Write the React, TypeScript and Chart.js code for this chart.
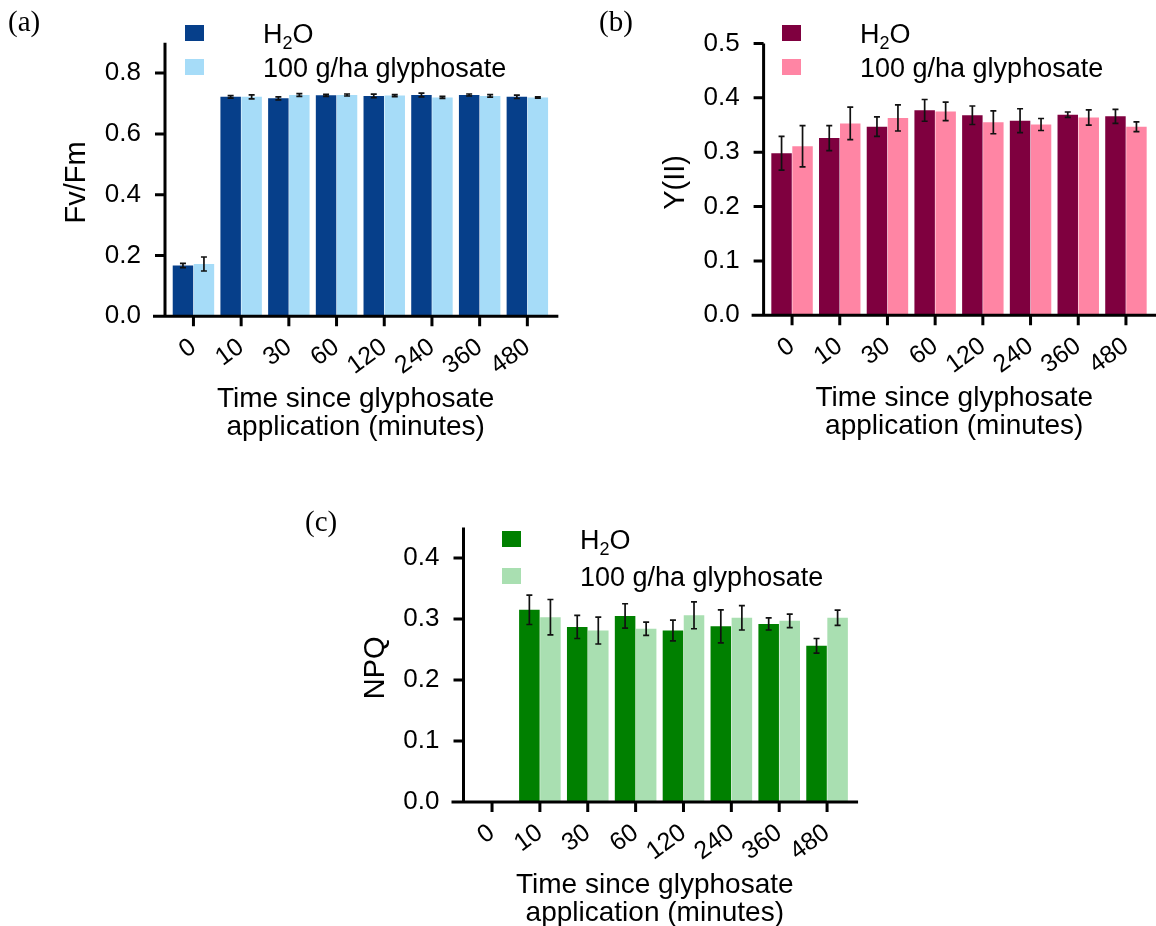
import React, { useEffect, useRef } from 'react';
import { Chart, registerables } from 'chart.js';

Chart.register(...registerables);

// ---------- data ----------
const categories = ['0', '10', '30', '60', '120', '240', '360', '480'];
const seriesNames = ['H2O', '100 g/ha glyphosate'];

const fvfmWater = [0.167, 0.722, 0.717, 0.727, 0.725, 0.728, 0.728, 0.722];
const fvfmWaterErr = [0.007, 0.004, 0.005, 0.0033, 0.006, 0.006, 0.0033, 0.0055];
const fvfmGly = [0.172, 0.722, 0.728, 0.728, 0.726, 0.72, 0.725, 0.72];
const fvfmGlyErr = [0.023, 0.0066, 0.0044, 0.0033, 0.0033, 0.0033, 0.004, 0.002];
const fvfmTicks = [0, 0.2, 0.4, 0.6, 0.8];

const yiiWater = [0.298, 0.326, 0.347, 0.377, 0.368, 0.358, 0.369, 0.366];
const yiiWaterErr = [0.031, 0.023, 0.018, 0.02, 0.017, 0.022, 0.005, 0.013];
const yiiGly = [0.311, 0.353, 0.363, 0.375, 0.355, 0.351, 0.364, 0.347];
const yiiGlyErr = [0.038, 0.03, 0.024, 0.017, 0.021, 0.011, 0.014, 0.009];
const yiiTicks = [0, 0.1, 0.2, 0.3, 0.4, 0.5];

const npqWater = [null, 0.315, 0.287, 0.305, 0.281, 0.288, 0.292, 0.256];
const npqWaterErr = [null, 0.024, 0.019, 0.02, 0.017, 0.027, 0.01, 0.012];
const npqGly = [null, 0.303, 0.281, 0.284, 0.306, 0.302, 0.297, 0.302];
const npqGlyErr = [null, 0.029, 0.022, 0.011, 0.022, 0.02, 0.011, 0.0125];
const npqTicks = [0, 0.1, 0.2, 0.3, 0.4];

const SANS = "'Liberation Sans', Arial, sans-serif";
const SERIF = "'Liberation Serif', 'Times New Roman', serif";

type PanelCfg = {
  id: string;
  label: string;
  labelPos: { x: number; y: number };
  canvas: { left: number; top: number; width: number; height: number };
  area: { left: number; right: number; top: number; bottom: number };
  yMax: number;
  yTicks: number[];
  yTitle: string;
  water: (number | null)[];
  waterErr: (number | null)[];
  gly: (number | null)[];
  glyErr: (number | null)[];
  colors: [string, string];
  legend: { squareX: number; textX: number; rows: [number, number] };
};

const panels: PanelCfg[] = [
  {
    id: 'a',
    label: '(a)',
    labelPos: { x: 8, y: 31 },
    canvas: { left: 0, top: 0, width: 580, height: 460 },
    area: { left: 169.6, right: 551.2, top: 42.7, bottom: 316.3 },
    yMax: 0.9,
    yTicks: fvfmTicks,
    yTitle: 'Fv/Fm',
    water: fvfmWater,
    waterErr: fvfmWaterErr,
    gly: fvfmGly,
    glyErr: fvfmGlyErr,
    colors: ['#063f8a', '#a6dcf8'],
    legend: { squareX: 185, textX: 263, rows: [33, 67] },
  },
  {
    id: 'b',
    label: '(b)',
    labelPos: { x: 599, y: 31 },
    canvas: { left: 580, top: 0, width: 576, height: 460 },
    area: { left: 768.2, right: 1149.8, top: 43.5, bottom: 315.3 },
    yMax: 0.5,
    yTicks: yiiTicks,
    yTitle: 'Y(II)',
    water: yiiWater,
    waterErr: yiiWaterErr,
    gly: yiiGly,
    glyErr: yiiGlyErr,
    colors: ['#7f003f', '#ff85a4'],
    legend: { squareX: 782, textX: 860, rows: [33, 67] },
  },
  {
    id: 'c',
    label: '(c)',
    labelPos: { x: 305, y: 531 },
    canvas: { left: 280, top: 470, width: 600, height: 456 },
    area: { left: 468.1, right: 851.0, top: 527.5, bottom: 802 },
    yMax: 0.45,
    yTicks: npqTicks,
    yTitle: 'NPQ',
    water: npqWater,
    waterErr: npqWaterErr,
    gly: npqGly,
    glyErr: npqGlyErr,
    colors: ['#008000', '#a9dfb1'],
    legend: { squareX: 502, textX: 580, rows: [539, 576] },
  },
];

function makeDecor(cfg: PanelCfg) {
  const ox = cfg.canvas.left;
  const oy = cfg.canvas.top;
  return {
    id: 'decor_' + cfg.id,
    afterDatasetsDraw(chart: any) {
      const ctx = chart.ctx;
      const ys = chart.scales.y;
      ctx.save();
      ctx.strokeStyle = '#111';
      ctx.lineWidth = 1.7;
      [cfg.waterErr, cfg.glyErr].forEach((errs, di) => {
        const meta = chart.getDatasetMeta(di);
        const vals = chart.data.datasets[di].data;
        meta.data.forEach((el: any, j: number) => {
          const v = vals[j];
          const e = errs[j];
          if (v == null || e == null) return;
          const x = el.x;
          const y1 = ys.getPixelForValue(v + e);
          const y2 = ys.getPixelForValue(v - e);
          ctx.beginPath();
          ctx.moveTo(x, y1);
          ctx.lineTo(x, y2);
          ctx.moveTo(x - 3, y1);
          ctx.lineTo(x + 3, y1);
          ctx.moveTo(x - 3, y2);
          ctx.lineTo(x + 3, y2);
          ctx.stroke();
        });
      });
      ctx.restore();
    },
    afterDraw(chart: any) {
      const ctx = chart.ctx;
      const a = chart.chartArea;
      const xs = chart.scales.x;
      const ys = chart.scales.y;
      const L = a.left - 4.6;
      const xEnd = xs.getPixelForValue(categories.length - 1) + 31;
      ctx.save();
      ctx.strokeStyle = '#000';
      ctx.lineWidth = 3;
      ctx.lineCap = 'butt';
      ctx.beginPath();
      ctx.moveTo(L, a.top);
      ctx.lineTo(L, a.bottom);
      ctx.moveTo(L - 12, a.bottom);
      ctx.lineTo(xEnd, a.bottom);
      ys.ticks.forEach((t: any) => {
        const y = ys.getPixelForValue(t.value);
        ctx.moveTo(L - 10, y);
        ctx.lineTo(L, y);
      });
      categories.forEach((_, i) => {
        const x = xs.getPixelForValue(i);
        ctx.moveTo(x, a.bottom);
        ctx.lineTo(x, a.bottom + 10);
      });
      ctx.stroke();

      // axis titles
      ctx.fillStyle = '#000';
      ctx.font = `28px ${SANS}`;
      ctx.textAlign = 'center';
      ctx.textBaseline = 'alphabetic';
      const cx = (L - 12 + xEnd) / 2;
      ctx.fillText('Time since glyphosate', cx, a.bottom + 91);
      ctx.fillText('application (minutes)', cx, a.bottom + 119);
      ctx.save();
      ctx.translate(L - 80, (a.top + a.bottom) / 2 + 3);
      ctx.rotate(-Math.PI / 2);
      ctx.font = `29px ${SANS}`;
      ctx.fillText(cfg.yTitle, 0, 0);
      ctx.restore();

      // legend
      const lg = cfg.legend;
      const sx = lg.squareX - ox;
      ctx.textAlign = 'left';
      cfg.colors.forEach((col, i) => {
        const cy = lg.rows[i] - oy;
        ctx.fillStyle = col;
        ctx.fillRect(sx, cy - 8, 19, 16);
        ctx.fillStyle = '#000';
        const base = cy + 9.6;
        let tx = lg.textX - ox;
        if (i === 0) {
          ctx.font = `27px ${SANS}`;
          ctx.fillText('H', tx, base);
          tx += ctx.measureText('H').width;
          ctx.font = `18px ${SANS}`;
          ctx.fillText('2', tx, base + 6);
          tx += ctx.measureText('2').width;
          ctx.font = `27px ${SANS}`;
          ctx.fillText('O', tx, base);
        } else {
          ctx.font = `27px ${SANS}`;
          ctx.fillText(seriesNames[1], tx, base);
        }
      });

      // panel label
      ctx.font = `29px ${SERIF}`;
      ctx.fillText(cfg.label, cfg.labelPos.x - ox, cfg.labelPos.y - oy);
      ctx.restore();
    },
  };
}

function Panel({ cfg }: { cfg: PanelCfg }) {
  const ref = useRef<HTMLCanvasElement>(null);
  const c = cfg.canvas;
  useEffect(() => {
    if (!ref.current) return;
    const chart = new Chart(ref.current, {
      type: 'bar',
      data: {
        labels: categories,
        datasets: [
          { label: seriesNames[0], data: cfg.water as any, backgroundColor: cfg.colors[0], borderWidth: 0 },
          { label: seriesNames[1], data: cfg.gly as any, backgroundColor: cfg.colors[1], borderWidth: 0 },
        ],
      },
      options: {
        responsive: false,
        animation: false,
        devicePixelRatio: 1,
        layout: {
          padding: {
            left: 0,
            top: cfg.area.top - c.top,
            right: c.left + c.width - cfg.area.right,
            bottom: 0,
          },
        },
        plugins: { legend: { display: false }, tooltip: { enabled: false } },
        datasets: { bar: { categoryPercentage: 0.88, barPercentage: 0.975 } },
        scales: {
          x: {
            type: 'category',
            offset: true,
            grid: {
              display: true,
              offset: false,
              drawOnChartArea: false,
              drawTicks: true,
              tickLength: 10,
              color: 'rgba(0,0,0,0)',
              tickColor: 'rgba(0,0,0,0)',
            },
            border: { display: false },
            ticks: {
              autoSkip: false,
              maxRotation: 36,
              minRotation: 36,
              padding: 6,
              color: '#000',
              font: { family: SANS, size: 25 },
            },
            afterFit: (s: any) => {
              s.height = c.top + c.height - cfg.area.bottom;
            },
          },
          y: {
            type: 'linear',
            min: 0,
            max: cfg.yMax,
            grid: {
              display: true,
              drawOnChartArea: false,
              drawTicks: true,
              tickLength: 20,
              color: 'rgba(0,0,0,0)',
              tickColor: 'rgba(0,0,0,0)',
            },
            border: { display: false },
            ticks: {
              padding: 8.6,
              color: '#000',
              font: { family: SANS, size: 26 },
              callback: (v: any) => Number(v).toFixed(1),
            },
            afterBuildTicks: (s: any) => {
              s.ticks = cfg.yTicks.map((v) => ({ value: v }));
            },
            afterFit: (s: any) => {
              s.width = cfg.area.left - c.left;
            },
          },
        },
      } as any,
      plugins: [makeDecor(cfg)],
    });
    return () => chart.destroy();
  }, []);
  return (
    <canvas
      ref={ref}
      width={c.width}
      height={c.height}
      style={{ position: 'absolute', left: c.left, top: c.top, width: c.width, height: c.height }}
    />
  );
}

export default function App() {
  return (
    <div
      style={{
        position: 'absolute',
        left: 0,
        top: 0,
        width: 1156,
        height: 926,
        background: '#fff',
        overflow: 'hidden',
      }}
    >
      {panels.map((p) => (
        <Panel key={p.id} cfg={p} />
      ))}
    </div>
  );
}
